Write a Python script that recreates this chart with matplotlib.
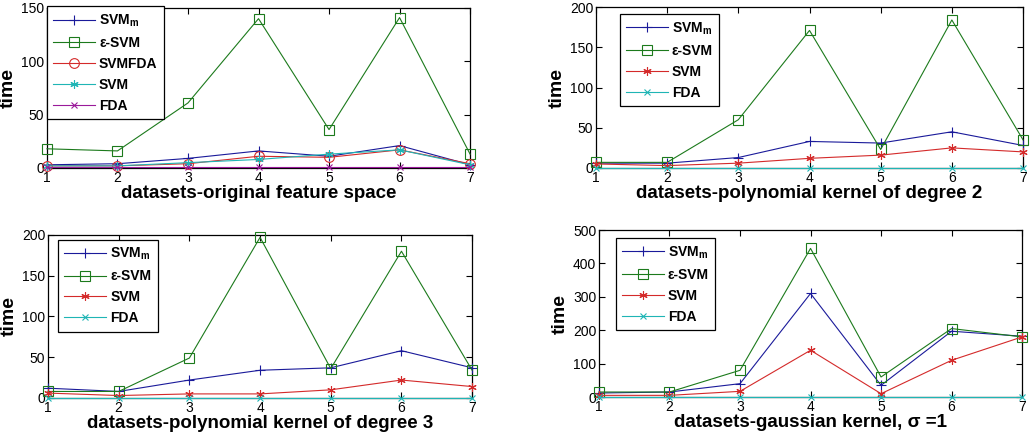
import matplotlib
matplotlib.use("Agg")
import matplotlib.pyplot as plt

plt.rcParams["font.family"] = ["Liberation Sans", "DejaVu Sans"]
plt.rcParams["mathtext.fontset"] = "custom"
plt.rcParams["mathtext.bf"] = "Liberation Sans:bold"
plt.rcParams["mathtext.rm"] = "Liberation Sans"

datasets = [1, 2, 3, 4, 5, 6, 7]

# original feature space
orig_svmm = [3, 4, 9, 16, 11, 21, 3]
orig_esvm = [18, 16, 61, 140, 36, 141, 13]
orig_svmfda = [2, 2, 4, 11, 10, 17, 4]
orig_svm = [2, 2, 5, 8, 13, 17, 3]
orig_fda = [0.5, 0.5, 0.5, 0.5, 0.5, 0.5, 0.5]

# polynomial kernel, degree 2
p2_svmm = [6, 6, 13, 33, 31, 45, 28]
p2_esvm = [7, 7, 60, 171, 23, 184, 35]
p2_svm = [5, 3, 6, 12, 16, 25, 20]
p2_fda = [0.5, 0.5, 0.5, 0.5, 0.5, 0.5, 0.5]

# polynomial kernel, degree 3
p3_svmm = [12, 8, 22, 34, 37, 58, 37]
p3_esvm = [8, 8, 49, 197, 36, 180, 34]
p3_svm = [6, 3, 5, 5, 10, 22, 14]
p3_fda = [0.5, 0.5, 0.5, 0.5, 0.5, 0.5, 0.5]

# gaussian kernel, sigma = 1
g_svmm = [12, 15, 40, 310, 35, 197, 182]
g_esvm = [15, 15, 80, 445, 60, 205, 180]
g_svm = [5, 5, 17, 140, 10, 110, 180]
g_fda = [1, 1, 1, 1, 1, 1, 1]

BLUE = "#1a1a9a"
GREEN = "#1c7a1c"
RED = "#d42a2a"
CYAN = "#1fb5b5"
MAG = "#9a1a9a"

LBL_M = r"SVM$_{\mathbf{m}}$"
LBL_E = "ε-SVM"
ASTER = (6, 2, 0)  # matlab-style asterisk


def style(ax, ymax, yticks, xlabel):
    ax.set_xlim(1, 7)
    ax.set_ylim(0, ymax)
    ax.set_xticks(datasets)
    ax.set_yticks(yticks)
    ax.tick_params(direction="in", top=True, right=True, length=4, labelsize=10, pad=2)
    for s in ax.spines.values():
        s.set_linewidth(0.9)
    ax.set_xlabel(xlabel, fontsize=13.5, fontweight="bold", labelpad=0)
    ax.set_ylabel("time", fontsize=14, fontweight="bold", labelpad=3)


def legend(ax, anchor):
    leg = ax.legend(loc="upper left", bbox_to_anchor=anchor, fancybox=False,
                    edgecolor="black", framealpha=1, handlelength=3.0,
                    borderaxespad=0, prop={"weight": "bold", "size": 10},
                    labelspacing=0.5, handletextpad=0.3, borderpad=0.45)
    leg.get_frame().set_linewidth(0.9)
    leg.set_zorder(5)


def line(ax, y, fmt, color, label, **extra):
    opts = dict(lw=0.8, ms=7, mew=0.8, clip_on=False, zorder=3)
    opts.update(extra)
    ax.plot(datasets, y, fmt, color=color, label=label, **opts)


fig = plt.figure(figsize=(10.32, 4.36), dpi=100)
ax1 = fig.add_axes([0.0455, 0.6147, 0.41, 0.367])
ax2 = fig.add_axes([0.5775, 0.6147, 0.4138, 0.369])
ax3 = fig.add_axes([0.0465, 0.0872, 0.411, 0.374])
ax4 = fig.add_axes([0.5804, 0.0894, 0.41, 0.383])

line(ax1, orig_svmm, "-+", BLUE, LBL_M)
line(ax1, orig_esvm, "-s", GREEN, LBL_E, mfc="none")
line(ax1, orig_svmfda, "-o", RED, "SVMFDA", mfc="none")
line(ax1, orig_svm, "-", CYAN, "SVM", marker=ASTER, ms=6)
line(ax1, orig_fda, "-x", MAG, "FDA", ms=5)
style(ax1, 150, [0, 50, 100, 150], "datasets-original feature space")
legend(ax1, (0.0, 1.01))

panels = [
    (ax2, p2_svmm, p2_esvm, p2_svm, p2_fda, 200, [0, 50, 100, 150, 200],
     "datasets-polynomial kernel of degree 2", (0.056, 0.957)),
    (ax3, p3_svmm, p3_esvm, p3_svm, p3_fda, 200, [0, 50, 100, 150, 200],
     "datasets-polynomial kernel of degree 3", (0.024, 0.97)),
    (ax4, g_svmm, g_esvm, g_svm, g_fda, 500, [0, 100, 200, 300, 400, 500],
     "datasets-gaussian kernel, σ =1", (0.04, 0.952)),
]
for ax, svmm, esvm, svm, fda, ymax, yt, xl, anchor in panels:
    line(ax, svmm, "-+", BLUE, LBL_M)
    line(ax, esvm, "-s", GREEN, LBL_E, mfc="none")
    line(ax, svm, "-", RED, "SVM", marker=ASTER, ms=6)
    line(ax, fda, "-x", CYAN, "FDA", ms=5)
    style(ax, ymax, yt, xl)
    legend(ax, anchor)

fig.savefig("out.png", dpi=100)
